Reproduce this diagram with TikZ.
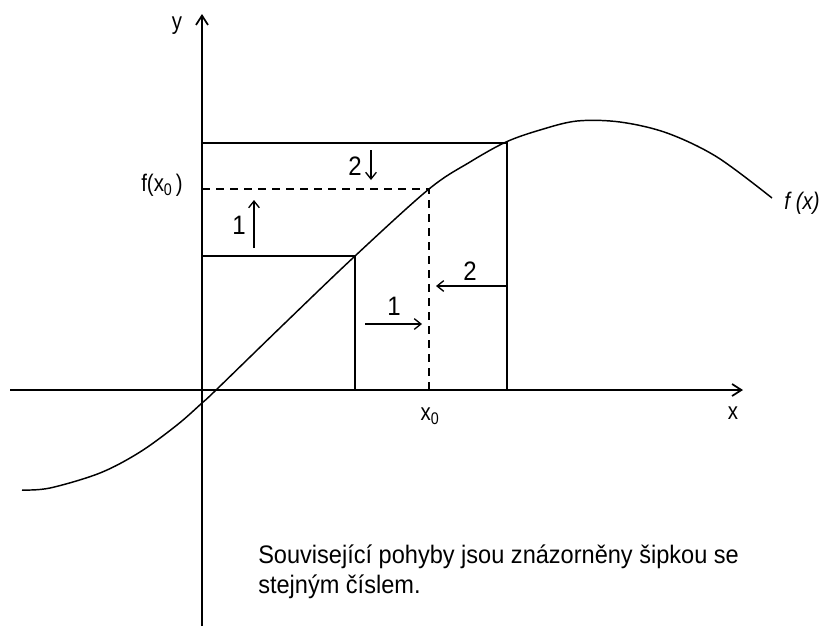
\documentclass[tikz,border=0pt]{standalone}
\usepackage{fontspec}
\setmainfont{Liberation Sans}
\usetikzlibrary{arrows.meta}
\newcommand{\narrow}[2]{\scalebox{#1}[1]{#2}}
\tikzset{
  ln/.style={line width=1.3pt},
  dsh/.style={line width=1.1pt, dash pattern=on 6pt off 4.5pt},
  mv/.style={line width=1pt, -{Straight Barb[length=5pt,width=8pt]}},
  axis/.style={line width=1.3pt, -{Straight Barb[length=7pt,width=9pt]}},
  lab/.style={inner sep=0pt, font=\fontsize{18pt}{21pt}\selectfont},
  num/.style={inner sep=0pt, font=\fontsize{20pt}{24pt}\selectfont},
  captxt/.style={anchor=base west, inner sep=0pt, font=\fontsize{19pt}{23pt}\selectfont},
}
\begin{document}
\begin{tikzpicture}[x=0.75pt,y=-0.75pt]
\useasboundingbox (0,0) rectangle (827,626);
% coordinates
\coordinate (xs) at (10,390);
\coordinate (xe) at (743,390);
\coordinate (ys) at (202,626);
\coordinate (ye) at (202,14);
\coordinate (A) at (355,256);
\coordinate (B) at (429,189);
\coordinate (C) at (507,143);
\coordinate (yA) at (202,256);
\coordinate (yB) at (202,189);
\coordinate (yC) at (202,143);
\coordinate (xA) at (355,390);
\coordinate (xB) at (429,390);
\coordinate (xC) at (507,390);
% axes
\draw[axis] (xs) -- (xe);
\draw[axis] (ys) -- (ye);
% curve
\draw[line width=1.1pt] plot[smooth, tension=0.55] coordinates {
 (22,490) (50,488) (100,473) (140,452) (177,425) (202,403) (215,391)
 (285,323) (355,256) (429,189) (470,162) (506,142) (540,130) (577,121) (620,122) (667,133) (717,157) (772,198)};
% construction lines
\draw[ln] (yC) -- (C) -- (xC);
\draw[ln] (yA) -- (A) -- (xA);
\draw[dsh] (yB) -- (B) -- (xB);
% movement arrows
\coordinate (u1s) at (254,248); \coordinate (u1e) at (254,200);
\coordinate (d2s) at (371,150); \coordinate (d2e) at (371,180);
\coordinate (r1s) at (365,324); \coordinate (r1e) at (422,324);
\coordinate (l2s) at (507,286); \coordinate (l2e) at (436,286);
\draw[mv] (u1s) -- (u1e);
\draw[mv] (d2s) -- (d2e);
\draw[mv] (r1s) -- (r1e);
\draw[mv] (l2s) -- (l2e);
% labels
\node[num] (n1u) at (239,225) {\narrow{0.9}{1}};
\node[num] (n2d) at (355,166) {\narrow{0.9}{2}};
\node[num] (n1r) at (394,306) {\narrow{0.9}{1}};
\node[num] (n2l) at (470,271) {\narrow{0.9}{2}};
\node[lab] (ly) at (177,26) {\narrow{0.85}{y}};
\node[lab] (lx) at (733,413) {\narrow{0.85}{x}};
\node[lab] (lx0) at (430,416) {\narrow{0.85}{x\textsubscript{0}}};
\node[lab] (lfx0) at (162,185) {\narrow{0.85}{f(x\textsubscript{0}\,)}};
\node[lab, font=\fontsize{18pt}{21pt}\selectfont\itshape] (lfx) at (802,203) {\narrow{0.85}{f (x)}};
% caption
\node[captxt] (cap1) at (258,563) {\narrow{0.93}{Související pohyby jsou znázorněny šipkou se}};
\node[captxt] (cap2) at (258,593) {\narrow{0.93}{stejným číslem.}};
\end{tikzpicture}
\end{document}
